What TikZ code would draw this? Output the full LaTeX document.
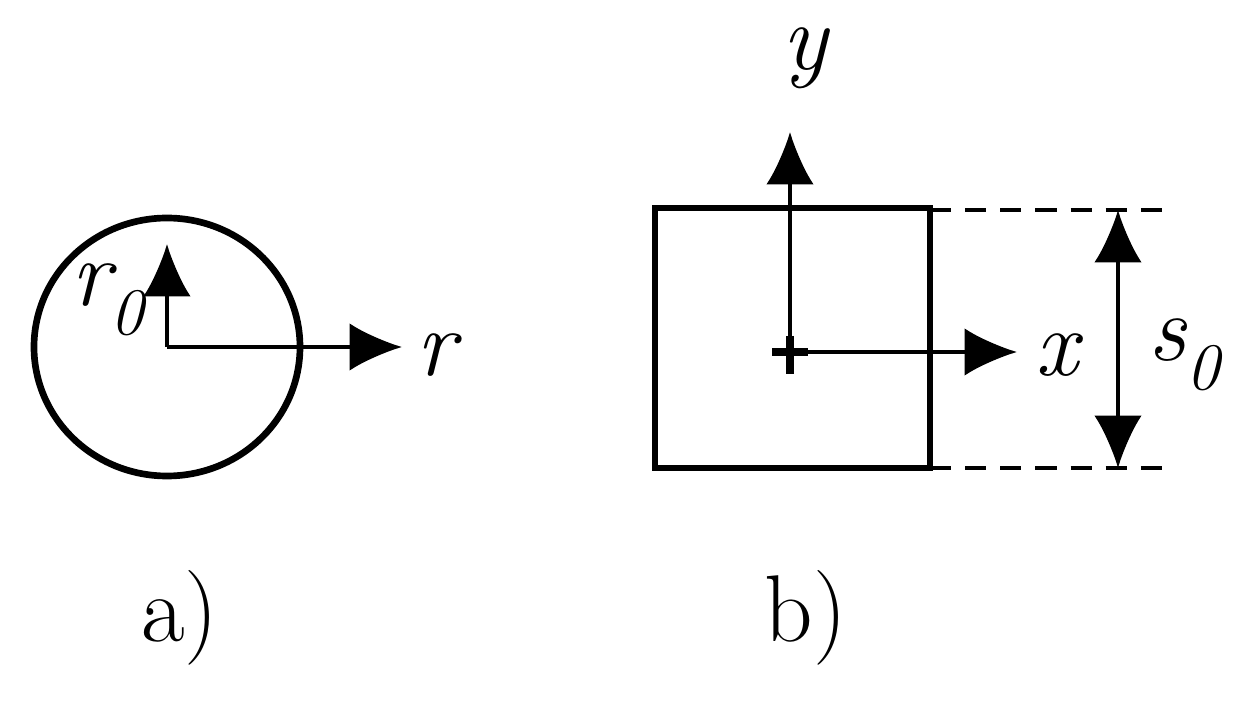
\documentclass[tikz,border=0pt]{standalone}
\usetikzlibrary{arrows.meta}
\begin{document}
\begin{tikzpicture}[x=0.02cm,y=-0.02cm,
  ax/.style={line width=1.9pt,-{Latex[length=1.05cm,width=0.95cm]}},
  thick1/.style={line width=3.8pt},
  lbl/.style={font=\fontsize{54}{60}\selectfont\itshape, inner sep=0pt},
  captxt/.style={font=\fontsize{54}{60}\selectfont, inner sep=0pt}]
\useasboundingbox (0,0) rectangle (1248,702);
% a)
\coordinate (c) at (167,347);
\draw[thick1] (c) ellipse [x radius=133, y radius=129];
\coordinate (rt) at (167,244);
\coordinate (re) at (402,347);
\draw[ax] (c) -- (rt);
\draw[ax] (c) -- (re);
\node[lbl] (r0) at (108,300) {r\textsubscript{0}};
\node[lbl] (r) at (436,355) {r};
\node[captxt] (a) at (180,618) {a)};
% b)
\draw[thick1] (655,208) rectangle (930,468);
\coordinate (o) at (790,352);
\draw[line width=4.5pt] (772,352) -- (808,352) (790,336) -- (790,374);
\coordinate (yt) at (790,132);
\coordinate (xe) at (1017,352);
\draw[ax] (o) -- (yt);
\draw[ax] (o) -- (xe);
\node[lbl] (y) at (805,58) {y};
\node[lbl] (x) at (1057,355) {x};
\coordinate (d1a) at (930,210); \coordinate (d1b) at (1162,210);
\coordinate (d2a) at (930,468); \coordinate (d2b) at (1162,468);
\draw[line width=1.9pt,dash pattern=on 12pt off 8pt] (d1a) -- (d1b);
\draw[line width=1.9pt,dash pattern=on 12pt off 8pt] (d2a) -- (d2b);
\coordinate (sa) at (1118,210); \coordinate (sb) at (1118,468);
\draw[line width=1.9pt,{Latex[length=1.05cm,width=0.95cm]}-{Latex[length=1.05cm,width=0.95cm]}] (sa) -- (sb);
\node[lbl] (s0) at (1185,355) {s\textsubscript{0}};
\node[captxt] (b) at (806,618) {b)};
\end{tikzpicture}
\end{document}
